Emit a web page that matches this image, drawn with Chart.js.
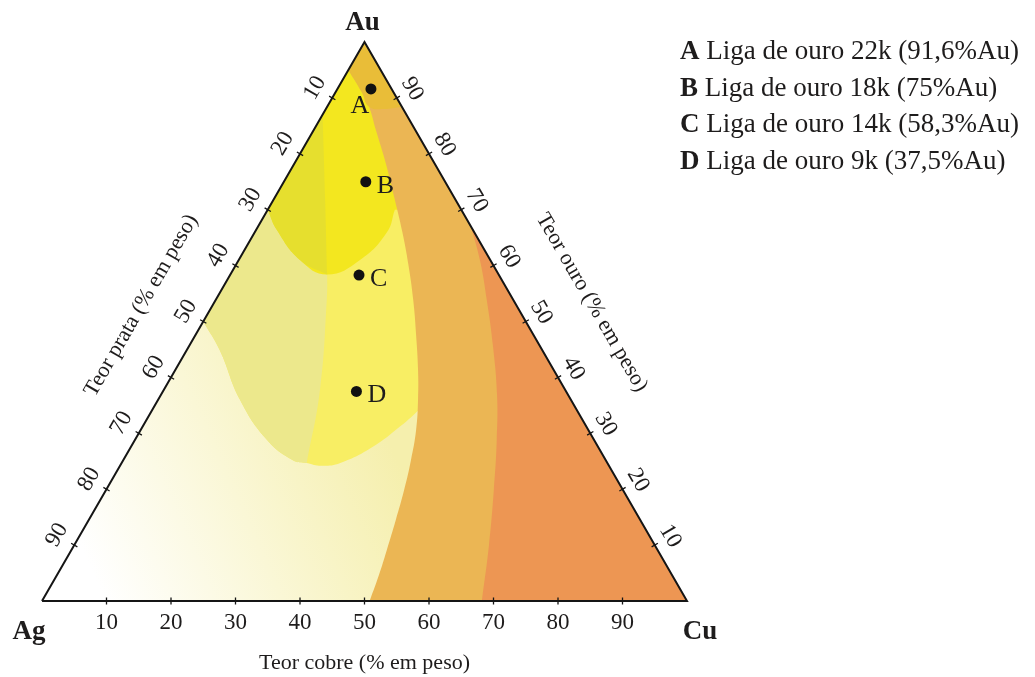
<!DOCTYPE html>
<html>
<head>
<meta charset="utf-8">
<script src="https://cdn.jsdelivr.net/npm/chart.js@4/dist/chart.umd.min.js"></script>
<style>
  html, body { margin: 0; padding: 0; background: #ffffff; }
  canvas { display: block; }
</style>
</head>
<body>
<canvas id="ternary" width="1035" height="677"></canvas>
<script>
// Compositions are written as [Cu %, Au %]; Ag % is the remainder.
const alloyNames = ['A', 'B', 'C', 'D'];
const alloyAu = [91.6, 75, 58.3, 37.5];
const alloyCu = [5.2, 12.7, 20.0, 30.0];
const alloyDescriptions = [
  'Liga de ouro 22k (91,6%Au)',
  'Liga de ouro 18k (75%Au)',
  'Liga de ouro 14k (58,3%Au)',
  'Liga de ouro 9k (37,5%Au)'
];
const tickValues = [10, 20, 30, 40, 50, 60, 70, 80, 90];
const cornerNames = ['Ag', 'Cu', 'Au'];
const titleCu = 'Teor cobre (% em peso)';
const titleAg = 'Teor prata (% em peso)';
const titleAu = 'Teor ouro (% em peso)';

// Colour-zone boundaries, [Cu %, Au %]
const tipBoundary = [[0, 95], [4.0, 91.1], [6.5, 88.4], [9.0, 88.0], [11.6, 88.4]];
const tanBoundary = [[0, 95], [4.0, 91.1], [6.5, 88.4], [9.6, 84.3], [14.3, 78.1], [18.8, 71.8],
  [22.8, 66.1], [26.7, 60.2], [30.6, 53.9], [34.2, 47.6], [37.6, 41.4], [40.3, 36.0], [42.7, 30.6],
  [44.6, 25.2], [46.2, 19.9], [47.6, 14.5], [48.9, 9.1], [49.9, 4.7], [50.8, 0]];
const orangeBoundary = [[33.0, 67.0], [37.6, 60.7], [42.0, 53.9], [47.0, 45.8], [52.1, 36.9],
  [56.1, 28.8], [60.1, 19.9], [64.3, 10.0], [68.2, 0]];
const deepBoundary = [[0, 70], [3.2, 66.4], [9.5, 61.0], [15.0, 58.4], [18.8, 61.0], [20.5, 65.9], [19.7, 70.0]];
const midBoundary = [[0, 50], [5.1, 44.9], [12.7, 36.0], [20.5, 28.8], [26.3, 25.2], [28.7, 24.7],
  [31.2, 24.2], [33.9, 24.7], [37.5, 27.6], [39.9, 31.2], [41.5, 34.5]];
const shadeDivider = [[0, 87], [8.0, 71.8], [15.0, 58.4], [17.2, 53.9], [24.2, 37.8], [28.7, 24.7]];

const SQ = Math.sqrt(3) / 2;
const AG = [0, 0], CU = [100, 0], AU = [0, 100];
const rightEdge = au => [100 - au, au];

function toXY(c) {
  return { x: c[0] / 100 + c[1] / 200, y: c[1] / 100 * SQ };
}

// Joins boundary runs into one closed outline; run ends are doubled so the
// joins stay sharp while each run itself is drawn as a smooth curve.
function region(...runs) {
  const pts = [];
  runs.forEach(run => {
    pts.push(run[0], ...run, run[run.length - 1]);
  });
  return pts.map(toXY);
}

function paleWash(context) {
  const chart = context.chart;
  if (!chart.chartArea) return '#f8f5d2';
  const xs = chart.scales.x, ys = chart.scales.y;
  const a = toXY(AG), b = toXY([40, 28]);
  const g = chart.ctx.createLinearGradient(
    xs.getPixelForValue(a.x), ys.getPixelForValue(a.y),
    xs.getPixelForValue(b.x), ys.getPixelForValue(b.y));
  g.addColorStop(0, '#ffffff');
  g.addColorStop(0.15, '#ffffff');
  g.addColorStop(1, '#f5efad');
  return g;
}

function zone(label, points, color, order) {
  return {
    label, data: points, order,
    showLine: true, fill: 'shape', tension: 0.45,
    backgroundColor: color, borderColor: 'rgba(0,0,0,0)', borderWidth: 0,
    pointRadius: 0, pointHoverRadius: 0
  };
}

// Short tick strokes across each edge, separated by gaps
function tickStrokes() {
  const pts = [];
  const half = 0.0056;
  const add = (c, n) => {
    const p = toXY(c);
    pts.push({ x: p.x - n[0] * half, y: p.y - n[1] * half });
    pts.push({ x: p.x + n[0] * half, y: p.y + n[1] * half });
    pts.push({ x: null, y: null });
  };
  tickValues.forEach(v => {
    add([v, 0], [0, 1]);
    add([0, 100 - v], [-SQ, 0.5]);
    add(rightEdge(v), [SQ, 0.5]);
  });
  return pts;
}

const divUp = shadeDivider.slice().reverse();

const datasets = [
  {
    label: 'ligas', order: 0, showLine: false,
    data: alloyAu.map((au, i) => toXY([alloyCu[i], au])),
    pointRadius: 5.5, pointHoverRadius: 5.5,
    backgroundColor: '#111111', borderColor: '#111111', borderWidth: 0
  },
  {
    label: 'contorno', order: 1, showLine: true, fill: false, tension: 0, clip: false,
    data: [AG, CU, AU, AG].map(toXY),
    borderColor: '#151515', borderWidth: 2, borderJoinStyle: 'miter', pointRadius: 0
  },
  {
    label: 'marcas', order: 1, showLine: true, fill: false, tension: 0, clip: false, spanGaps: false,
    data: tickStrokes(),
    borderColor: '#151515', borderWidth: 1.3, pointRadius: 0
  },
  zone('ponta', region([AU], tipBoundary), '#e9bd38', 2),
  zone('laranja', region(orangeBoundary, [CU]), '#ed9653', 3),
  zone('castanho', region([AU], tanBoundary, [CU]), '#ebb654', 4),
  zone('amarelo forte esq', region(deepBoundary.slice(0, 4), divUp.slice(3)), '#e6df2e', 5),
  zone('amarelo forte', region([AU], deepBoundary, [rightEdge(70)]), '#f3e71f', 6),
  zone('amarelo claro esq', region(midBoundary.slice(0, 6), divUp), '#ece88c', 7),
  zone('amarelo claro', region([AU], midBoundary, [rightEdge(34.5)]), '#f8ee64', 8),
  zone('fundo', region([AG], [CU], [AU]), paleWash, 9)
];

const SERIF = '"Liberation Serif", "Times New Roman", serif';

const ternaryText = {
  id: 'ternaryText',
  afterDraw(chart) {
    const { ctx } = chart;
    const xs = chart.scales.x, ys = chart.scales.y;
    const px = c => { const p = toXY(c); return [xs.getPixelForValue(p.x), ys.getPixelForValue(p.y)]; };
    const rot = (text, x, y, angle) => {
      ctx.save(); ctx.translate(x, y); ctx.rotate(angle); ctx.fillText(text, 0, 0); ctx.restore();
    };
    ctx.save();
    ctx.fillStyle = '#1e1c1c';

    // tick labels
    ctx.font = '23px ' + SERIF;
    ctx.textAlign = 'center';
    ctx.textBaseline = 'middle';
    tickValues.forEach(v => {
      const [bx, by] = px([v, 0]);
      ctx.fillText(String(v), bx, by + 22);
      const [lx, ly] = px([0, 100 - v]);
      rot(String(v), lx - SQ * 20, ly - 0.5 * 20, -Math.PI / 3);
      const [rx, ry] = px(rightEdge(v));
      rot(String(v), rx + SQ * 18, ry - 0.5 * 18, Math.PI / 3);
    });

    // axis titles
    ctx.font = '22px ' + SERIF;
    const [mbx, mby] = px([50, 0]);
    ctx.fillText(titleCu, mbx, mby + 62);
    const [mlx, mly] = px([0, 50]);
    rot(titleAg, mlx - 62, mly - 16, -Math.PI / 3);
    const [mrx, mry] = px([50, 50]);
    rot(titleAu, mrx + 66, mry - 19, Math.PI / 3);

    // corner names
    ctx.font = 'bold 27px ' + SERIF;
    ctx.textBaseline = 'alphabetic';
    const [agx, agy] = px(AG), [cux, cuy] = px(CU), [aux, auy] = px(AU);
    ctx.fillText(cornerNames[0], agx - 13, agy + 38);
    ctx.fillText(cornerNames[1], cux + 13, cuy + 38);
    ctx.fillText(cornerNames[2], aux - 2, auy - 12);

    // alloy point labels
    ctx.font = '26px ' + SERIF;
    alloyNames.forEach((name, i) => {
      const [x, y] = px([alloyCu[i], alloyAu[i]]);
      if (i === 0) {
        ctx.textAlign = 'center';
        ctx.fillText(name, x - 11, y + 24);
      } else {
        ctx.textAlign = 'left';
        ctx.fillText(name, x + 11, y + 11);
      }
    });

    // key on the right
    ctx.textAlign = 'left';
    const keyX = 680, keyY = 59, keyStep = 36.5;
    alloyNames.forEach((name, i) => {
      const y = keyY + i * keyStep;
      ctx.font = 'bold 27px ' + SERIF;
      ctx.fillText(name, keyX, y);
      const w = ctx.measureText(name + ' ').width;
      ctx.font = '27px ' + SERIF;
      ctx.fillText(alloyDescriptions[i], keyX + w, y);
    });
    ctx.restore();
  }
};

new Chart(document.getElementById('ternary'), {
  type: 'scatter',
  data: { datasets },
  options: {
    responsive: false,
    devicePixelRatio: 1,
    animation: false,
    events: [],
    layout: { padding: { left: 42, right: 348, top: 42, bottom: 76 } },
    scales: {
      x: { type: 'linear', min: 0, max: 1, display: false },
      y: { type: 'linear', min: 0, max: SQ, display: false }
    },
    plugins: {
      legend: { display: false },
      tooltip: { enabled: false },
      filler: { propagate: false }
    }
  },
  plugins: [ternaryText]
});
</script>
</body>
</html>
